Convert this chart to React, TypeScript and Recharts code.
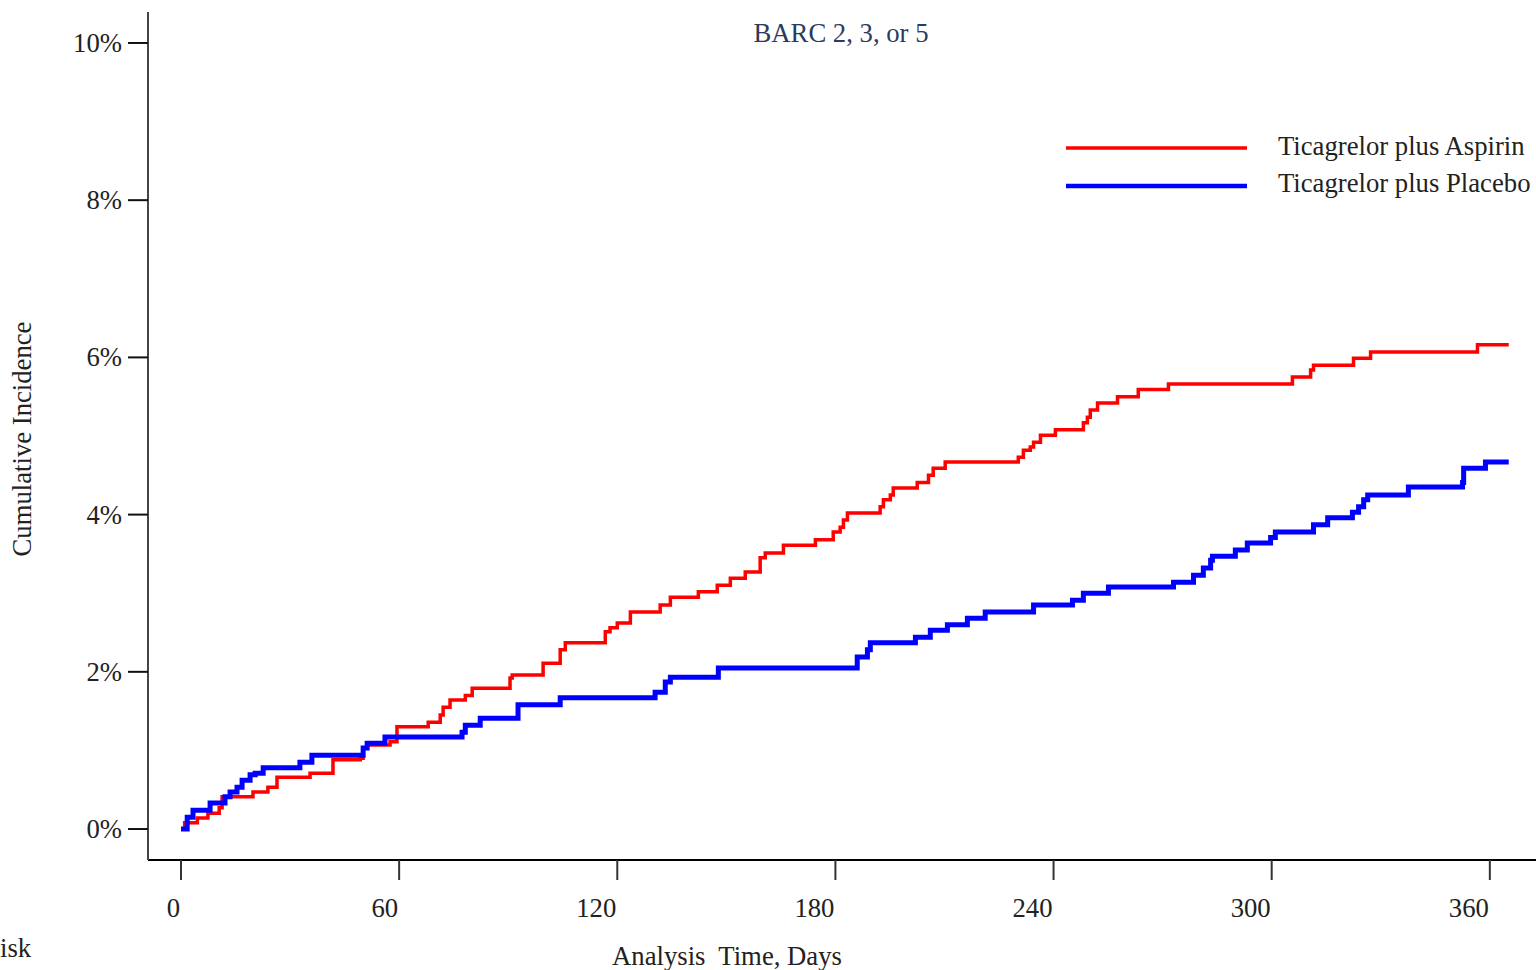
import { LineChart, Line, XAxis, YAxis, Legend, Label } from "recharts";

const xTicks = [0, 60, 120, 180, 240, 300, 360];
const yTicks = [0, 2, 4, 6, 8, 10];

const aspirinDays = [
  0, 1, 4.5, 7.4, 10.5, 11.3, 19.8, 23.9, 26.4, 35.5, 41.8, 49.3, 50.1, 51.2,
  57.5, 59.4, 68, 71.3, 72.1, 74, 78.2, 80.1, 90.5, 91.1, 99.6, 104.3, 105.7,
  116.7, 118, 120, 123.6, 131.8, 134.6, 142.3, 147.5, 151.1, 155.2, 159.3,
  160.7, 165.7, 174.5, 179.4, 181.3, 182.2, 183.3, 192.3, 193.2, 195.1, 195.9,
  202.5, 205.6, 206.9, 210.2, 230.3, 231.7, 233.6, 234.5, 236.4, 240.5, 248.2,
  249.3, 250.1, 252.1, 257.6, 263.3, 271.6, 305.7, 310.7, 311.5, 322.5, 327.2,
  356.6, 365.2,
];
const aspirinPct = [
  0, 0.08, 0.14, 0.2, 0.27, 0.41, 0.47, 0.53, 0.66, 0.71, 0.88, 0.9, 1.03, 1.07,
  1.11, 1.3, 1.36, 1.45, 1.55, 1.64, 1.7, 1.79, 1.92, 1.96, 2.11, 2.28, 2.37,
  2.51, 2.56, 2.62, 2.76, 2.85, 2.95, 3.02, 3.1, 3.19, 3.27, 3.45, 3.51, 3.61,
  3.68, 3.78, 3.84, 3.93, 4.02, 4.1, 4.19, 4.25, 4.34, 4.41, 4.5, 4.59, 4.67,
  4.73, 4.82, 4.86, 4.92, 5.01, 5.08, 5.17, 5.24, 5.33, 5.42, 5.5, 5.59, 5.66,
  5.75, 5.84, 5.9, 5.99, 6.07, 6.16, 6.16,
];

const placeboDays = [
  0, 1.7, 3.3, 8, 12.1, 13.5, 15.4, 16.8, 19, 20.4, 22.6, 32.7, 36, 50.1, 51.2,
  56.1, 77.3, 78.2, 82.3, 92.7, 104.3, 130.4, 133.2, 134.6, 147.8, 186, 188.8,
  189.6, 202, 206.1, 210.8, 216.3, 221.2, 234.5, 245.2, 248.2, 255.1, 273,
  278.5, 281.2, 283.2, 283.7, 290, 293.3, 299.7, 301, 311.5, 315.4, 322.2,
  323.9, 325.3, 326.4, 337.6, 352.5, 352.8, 358.8, 365.2,
];
const placeboPct = [
  0, 0.15, 0.24, 0.33, 0.41, 0.47, 0.53, 0.62, 0.69, 0.71, 0.78, 0.85, 0.94,
  1.03, 1.09, 1.17, 1.23, 1.32, 1.41, 1.58, 1.67, 1.74, 1.87, 1.93, 2.05, 2.19,
  2.28, 2.37, 2.44, 2.53, 2.6, 2.68, 2.76, 2.85, 2.91, 3.0, 3.08, 3.14, 3.23,
  3.32, 3.42, 3.47, 3.55, 3.64, 3.71, 3.78, 3.87, 3.96, 4.03, 4.1, 4.19, 4.25,
  4.35, 4.41, 4.59, 4.67, 4.67,
];

const aspirin = aspirinDays.map((day, i) => ({ day, pct: aspirinPct[i] }));
const placebo = placeboDays.map((day, i) => ({ day, pct: placeboPct[i] }));

const FONT = "'Liberation Serif', 'Times New Roman', serif";
const FS = 26.7;

const XTick = ({ x, y, payload }: any) => (
  <text x={x - 1} y={y + 37} textAnchor="end" fontFamily={FONT} fontSize={FS} fill="#222">
    {payload.value}
  </text>
);

const YTick = ({ x, y, payload }: any) => (
  <text x={x - 6} y={y + 9} textAnchor="end" fontFamily={FONT} fontSize={FS} fill="#222">
    {payload.value}%
  </text>
);

const LegendBox = ({ payload }: any) => (
  <svg width={476} height={80} style={{ overflow: "visible" }}>
    {(payload || []).map((p: any, i: number) => (
      <g key={p.value}>
        <line x1={6} x2={187} y1={23 + i * 38} y2={23 + i * 38} stroke={p.color} strokeWidth={i === 0 ? 3.5 : 4.5} />
        <text x={218} y={30 + i * 37} fontFamily={FONT} fontSize={FS} fill="#222">
          {p.value}
        </text>
      </g>
    ))}
  </svg>
);

export default function App() {
  return (
    <div style={{ position: "absolute", left: 0, top: 0, width: 1536, height: 970, background: "#fff" }}>
      <LineChart width={1536} height={970} margin={{ top: 12, right: 0, bottom: 0, left: 0 }}>
        <XAxis
          type="number"
          dataKey="day"
          domain={[-9.08, 372.7]}
          allowDataOverflow
          ticks={xTicks}
          tickSize={20}
          tickMargin={0}
          height={110}
          tick={<XTick />}
          tickLine={{ stroke: "#333", strokeWidth: 2 }}
          axisLine={{ stroke: "#000", strokeWidth: 2 }}
        >
          <Label
            content={() => (
              <text x={727} y={965} textAnchor="middle" fontFamily={FONT} fontSize={FS} fill="#222" style={{ whiteSpace: "pre" }}>
                {"Analysis  Time, Days"}
              </text>
            )}
          />
        </XAxis>
        <YAxis
          type="number"
          domain={[-0.394, 10.394]}
          allowDataOverflow
          ticks={yTicks}
          tickSize={20}
          tickMargin={0}
          width={148}
          tick={<YTick />}
          tickLine={{ stroke: "#111", strokeWidth: 2 }}
          axisLine={{ stroke: "#444", strokeWidth: 2 }}
        >
          <Label
            content={() => (
              <text x={31} y={439} transform="rotate(-90 31 439)" textAnchor="middle" fontFamily={FONT} fontSize={FS} fill="#222">
                Cumulative Incidence
              </text>
            )}
          />
        </YAxis>
        <Legend
          layout="horizontal"
          verticalAlign="middle"
          align="right"
          content={<LegendBox />}
          wrapperStyle={{ left: 1060, top: 125, width: 0, height: 0, overflow: "visible" }}
        />
        <Line
          data={aspirin}
          dataKey="pct"
          name="Ticagrelor plus Aspirin"
          type="stepAfter"
          stroke="#ff0000"
          strokeWidth={3.5}
          dot={false}
          isAnimationActive={false}
        />
        <Line
          data={placebo}
          dataKey="pct"
          name="Ticagrelor plus Placebo"
          type="stepAfter"
          stroke="#0000ff"
          strokeWidth={5}
          dot={false}
          isAnimationActive={false}
        />
      </LineChart>
      <svg width={1536} height={970} style={{ position: "absolute", left: 0, top: 0, pointerEvents: "none" }}>
        <text x={841} y={42} textAnchor="middle" fontFamily={FONT} fontSize={FS} fill="#2b3a5e">
          BARC 2, 3, or 5
        </text>
        <text x={0} y={957} fontFamily={FONT} fontSize={FS} fill="#222">
          isk
        </text>
      </svg>
    </div>
  );
}
